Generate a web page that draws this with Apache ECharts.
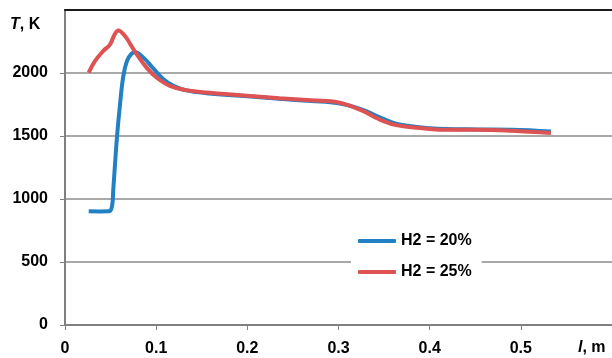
<!DOCTYPE html>
<html>
<head>
<meta charset="utf-8">
<script src="https://cdn.jsdelivr.net/npm/echarts@6/dist/echarts.min.js"></script>
<style>html,body{margin:0;padding:0;background:#fff;}#c{width:612px;height:358px;}</style>
</head>
<body>
<div id="c"></div>
<script>
const seriesNames = ['H2 = 20%', 'H2 = 25%'];
const xTicks = [0, 0.1, 0.2, 0.3, 0.4, 0.5];
const yTicks = [0, 500, 1000, 1500, 2000];
const blueData = [
  [0.026, 902], [0.038, 901], [0.048, 902], [0.0515, 940], [0.053, 1080],
  [0.057, 1490], [0.0604, 1755], [0.064, 1977], [0.068, 2096], [0.073, 2154],
  [0.077, 2165], [0.086, 2122], [0.096, 2043], [0.108, 1951], [0.119, 1898], [0.133, 1862],
  [0.155, 1840], [0.2, 1815], [0.235, 1795], [0.27, 1778], [0.30, 1760],
  [0.326, 1710], [0.344, 1653], [0.362, 1600], [0.38, 1577], [0.4, 1562],
  [0.417, 1555], [0.453, 1552], [0.49, 1550], [0.533, 1535]
];
const redData = [
  [0.026, 2003], [0.033, 2096], [0.042, 2175], [0.0495, 2228],
  [0.054, 2300], [0.0585, 2338], [0.0658, 2294], [0.0713, 2233],
  [0.0786, 2149], [0.0895, 2043], [0.1004, 1964], [0.115, 1898], [0.133, 1864], [0.155, 1845],
  [0.2, 1820], [0.235, 1800], [0.27, 1783], [0.30, 1766],
  [0.326, 1701], [0.344, 1635], [0.362, 1588], [0.38, 1569], [0.4, 1556], [0.417, 1550],
  [0.453, 1550], [0.49, 1542], [0.533, 1524]
];

const FONT = '"Liberation Sans", Arial, sans-serif';
const chart = echarts.init(document.getElementById('c'), null, {renderer: 'canvas'});
chart.setOption({
  animation: false,
  backgroundColor: '#ffffff',
  grid: {left: 65, right: -2, top: 10, bottom: 33, containLabel: false},
  xAxis: [{
    type: 'value', min: 0, max: 0.6, interval: 0.1,
    axisLine: {show: true, lineStyle: {color: '#808080', width: 2}},
    axisTick: {show: true, length: 5, lineStyle: {color: '#808080', width: 1}},
    splitLine: {show: false},
    axisLabel: {
      margin: 16, color: '#000', fontFamily: FONT, fontWeight: 'bold', fontSize: 16,
      showMaxLabel: false,
      formatter: v => { const t = xTicks.find(k => Math.abs(k - v) < 1e-9); return t === undefined ? '' : String(t); }
    }
  }, {
    type: 'value', position: 'top', min: 0, max: 0.6,
    axisLine: {show: true, onZero: false, lineStyle: {color: '#1a1a1a', width: 2}},
    axisTick: {show: false}, axisLabel: {show: false}, splitLine: {show: false}
  }],
  yAxis: {
    type: 'value', min: 0, max: 2500, interval: 500,
    axisLine: {show: true, lineStyle: {color: '#808080', width: 2}},
    axisTick: {show: true, length: 5, lineStyle: {color: '#808080', width: 1}},
    splitLine: {show: true, lineStyle: {color: '#8c8c8c', width: 1.5}},
    axisLabel: {
      margin: 17, color: '#000', fontFamily: FONT, fontWeight: 'bold', fontSize: 16,
      showMaxLabel: false,
      formatter: v => yTicks.includes(v) ? String(v) : ''
    }
  },
  legend: {
    orient: 'vertical', left: 351, top: 227,
    backgroundColor: '#ffffff', padding: [6, 10, 6, 7], itemGap: 15,
    itemWidth: 38, itemHeight: 4, icon: 'roundRect',
    textStyle: {color: '#000', fontFamily: FONT, fontWeight: 'bold', fontSize: 16, lineHeight: 16},
    data: seriesNames
  },
  graphic: [
    {type: 'text', left: 10, top: 17, style: {
      rich: {i: {fontStyle: 'italic', fontWeight: 'bold', fontSize: 16, fontFamily: FONT, fill: '#000'},
             n: {fontWeight: 'bold', fontSize: 16, fontFamily: FONT, fill: '#000'}},
      text: '{i|T}{n|, K}'
    }},
    {type: 'text', left: 578, top: 340, style: {
      rich: {i: {fontStyle: 'italic', fontWeight: 'bold', fontSize: 16, fontFamily: FONT, fill: '#000'},
             n: {fontWeight: 'bold', fontSize: 16, fontFamily: FONT, fill: '#000'}},
      text: '{i|l}{n|, m}'
    }}
  ],
  series: [
    {name: seriesNames[0], type: 'line', data: blueData, smooth: 0.4, showSymbol: false,
     symbol: 'none', lineStyle: {color: '#2280c4', width: 4}, itemStyle: {color: '#2280c4'}},
    {name: seriesNames[1], type: 'line', data: redData, smooth: 0.4, showSymbol: false,
     symbol: 'none', lineStyle: {color: '#dd5252', width: 4}, itemStyle: {color: '#dd5252'}}
  ]
});
</script>
</body>
</html>
